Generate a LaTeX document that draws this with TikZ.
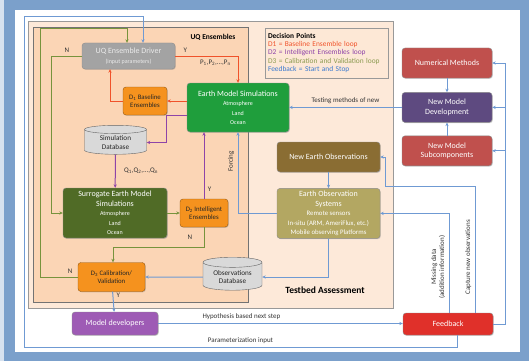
\documentclass[tikz,border=0pt]{standalone}
\usepackage{fontspec}
\setmainfont{Carlito}
\usetikzlibrary{positioning,arrows.meta,shapes.geometric,shadows}
\definecolor{frameblue}{HTML}{7BA0CB}
\definecolor{testbedfill}{HTML}{FDE9D9}
\definecolor{uqfill}{HTML}{FBD5B5}
\definecolor{lineblue}{HTML}{6F9AD3}
\definecolor{lineolive}{HTML}{77933C}
\definecolor{linered}{HTML}{F0522A}
\definecolor{linepurple}{HTML}{8E44A8}
\definecolor{drivergrey}{HTML}{A3A3A3}
\definecolor{earthgreen}{HTML}{1F9E3C}
\definecolor{dorange}{HTML}{F5921E}
\definecolor{surrolive}{HTML}{506B26}
\definecolor{obsbrown}{HTML}{8A6D33}
\definecolor{obskhaki}{HTML}{B3A762}
\definecolor{devpurple}{HTML}{9E5BB5}
\definecolor{feedred}{HTML}{E0302A}
\definecolor{methred}{HTML}{C0504D}
\definecolor{methpurple}{HTML}{5E4A80}
\definecolor{legendolive}{HTML}{8A9A50}
\definecolor{legendblue}{HTML}{3A7AD0}
\newcommand{\smalltxt}{\fontsize{6}{7.5}\selectfont}
\newcommand{\midtxt}{\fontsize{6.8}{8}\selectfont}
\tikzset{
  blk/.style={rounded corners=3pt,draw=black!45,align=center,text=white,inner sep=1pt,
            font=\fontsize{8}{9.5}\selectfont,
            drop shadow={shadow xshift=0.8pt,shadow yshift=-0.8pt,opacity=0.35}},
  dbox/.style={blk,fill=dorange,draw=dorange!60!black,text=black!85,font=\fontsize{6.8}{7.8}\selectfont},
  dbase/.style={cylinder,shape border rotate=90,aspect=0.25,draw=black!60,fill=black!15,
            align=center,text=black!85,inner sep=1pt,font=\fontsize{7.2}{8.2}\selectfont},
  legendbox/.style={draw=black!40,fill=uqfill!55,align=left,inner sep=3pt,
            text width=117pt,minimum height=50pt,font=\fontsize{7.4}{8.4}\selectfont,
            drop shadow={shadow xshift=0.8pt,shadow yshift=-0.8pt,opacity=0.3}},
  gloop/.style={->,line width=1pt,lineolive},
  rloop/.style={->,line width=1pt,linered},
  ploop/.style={->,line width=1pt,linepurple},
  bloop/.style={->,line width=1pt,lineblue},
  lbl/.style={font=\fontsize{7}{8}\selectfont,text=black!80},
}
\begin{document}
\begin{tikzpicture}[x=1pt,y=-1pt,>={Stealth[length=3.5pt,width=3.2pt]},
    every node/.style={font=\fontsize{7.5}{9}\selectfont}]
  \useasboundingbox (0,0) rectangle (529,361);
  \fill[frameblue!30] (0,0) rectangle (529,361);
  \fill[frameblue] (4,0) rectangle (529,361);
  \fill[white] (15,10) rectangle (520,352);
  \draw[black!40,fill=testbedfill] (28,21) rectangle (393,308);
  \draw[black!55,fill=uqfill] (33,27) rectangle (248,302);

  \node[font=\bfseries\fontsize{7.5}{9}\selectfont] (uqlbl) at (213,37) {UQ Ensembles};
  \node[font=\bfseries\fontsize{9.5}{11}\selectfont] (tblbl) at (325,290) {Testbed Assessment};
  \node[legendbox] (legend) at (326.5,53) {\textbf{Decision Points}\\
    \textcolor{linered}{D1 = Baseline Ensemble loop}\\
    \textcolor{linepurple}{D2 = Intelligent Ensembles loop}\\
    \textcolor{legendolive}{D3 = Calibration and Validation loop}\\
    \textcolor{legendblue}{Feedback = Start and Stop}};

  \node[blk,fill=drivergrey,text=white!92!black,minimum width=93pt,minimum height=26pt]
        (driver) at (128.5,56) {UQ Ensemble Driver\\\smalltxt(input parameters)};
  \node[blk,fill=earthgreen,minimum width=102pt,minimum height=49pt]
        (earth) at (238,107.5) {Earth Model Simulations\\\smalltxt Atmosphere\\\smalltxt Land\\\smalltxt Ocean};
  \node[dbox,minimum width=44pt,minimum height=28pt]
        (baseline) at (145,101) {D\textsubscript{1} Baseline\\Ensembles};
  \node[dbase,minimum width=62pt,minimum height=29pt]
        (simdb) at (115.5,142.5) {Simulation\\Database};
  \node[blk,fill=surrolive,minimum width=104pt,minimum height=50pt]
        (surrogate) at (115,213) {Surrogate Earth Model\\Simulations\\\smalltxt Atmosphere\\\smalltxt Land\\\smalltxt Ocean};
  \node[dbox,minimum width=48pt,minimum height=28pt]
        (intel) at (204,213) {D\textsubscript{2} Intelligent\\Ensembles};
  \node[dbox,minimum width=67pt,minimum height=29pt]
        (calib) at (111.5,277) {D\textsubscript{3} Calibration/\\Validation};
  \node[dbase,minimum width=59pt,minimum height=33pt]
        (obsdb) at (232.5,277) {Observations\\Database};
  \node[blk,fill=obsbrown,minimum width=103pt,minimum height=30pt]
        (neweo) at (328.5,157) {New Earth Observations};
  \node[blk,fill=obskhaki,minimum width=103pt,minimum height=50pt,below=16pt of neweo]
        (eos) {Earth Observation\\Systems\\\midtxt Remote sensors\\\midtxt In-situ (ARM, AmeriFlux, etc.)\\\midtxt Mobile observing Platforms};
  \node[blk,fill=devpurple,minimum width=86pt,minimum height=23pt]
        (moddev) at (115,323.5) {Model developers};
  \node[blk,fill=feedred,minimum width=90pt,minimum height=22pt]
        (feedback) at (448,324) {Feedback};
  \node[blk,fill=methred,minimum width=90pt,minimum height=30pt]
        (nummeth) at (447,63) {Numerical Methods};
  \node[blk,fill=methpurple,minimum width=90pt,minimum height=30pt,below=14pt of nummeth]
        (newdev) {New Model\\Development};
  \node[blk,fill=methred,minimum width=90pt,minimum height=30pt,below=13pt of newdev]
        (newsub) {New Model\\Subcomponents};

  \coordinate (greentop) at (40,29);
  \coordinate (bluetop) at (24,17);

  \draw[rloop] (driver.east) -| node[lbl,above,pos=0.08]{Y}
        node[lbl,below,pos=0.32]{P\textsubscript{1},P\textsubscript{2},...,P\textsubscript{n}} (earth.north);
  \draw[rloop] (earth.west |- baseline.east) -- (baseline.east);
  \draw[rloop] (baseline.west) -| ([xshift=-18.5pt]driver.south);
  \draw[gloop] (driver.west) -- node[lbl,above]{N} ++(-30,0) |- (surrogate.west);
  \draw[ploop] ([yshift=-7.5pt]earth.west) -| ([xshift=19.5pt]simdb.east) -- (simdb.east);
  \draw[ploop] (simdb) -- node[lbl,right=5pt]{Q\textsubscript{1},Q\textsubscript{2},...,Q\textsubscript{n}} (surrogate);
  \draw[gloop] (surrogate.east) -- (surrogate.east -| intel.west);
  \draw[ploop] (intel.north) -- node[lbl,right,pos=0.15]{Y} (intel.north |- earth.south);
  \draw[gloop] (intel.south) -- node[lbl,left=8pt]{N} ++(0,20) -| ([xshift=1.5pt]calib.north);
  \draw[gloop] (calib.west) -| node[lbl,above,pos=0.1]{N} (greentop) -| ([xshift=-1.5pt]driver.north);
  \draw[bloop] (eos.west) -| node[lbl,sloped,above,pos=0.82]{Forcing} (earth.south);
  \draw[bloop] (neweo) -- (eos);
  \draw[bloop] (eos.south) |- (obsdb);
  \draw[bloop] (obsdb) -- (calib);
  \draw[bloop] (calib) -- node[lbl,right,pos=0.2]{Y} (moddev);
  \draw[bloop] (moddev.east) -- node[lbl,above,pos=0.34]{Hypothesis based next step} (moddev.east -| feedback.west);
  \draw[bloop] ([xshift=9pt]feedback.south) -- ++(0,12)
        -| node[lbl,above,pos=0.25]{Parameterization input} (bluetop) -| ([xshift=14.5pt]driver.north);
  \draw[bloop] ([xshift=1pt]feedback.north) |- node[lbl,sloped,above,pos=0.23,align=center]
        {Missing data\\(addition information)} (eos.east);
  \draw[bloop] ([xshift=27pt]feedback.north) -- node[lbl,sloped,above,pos=0.44]{Capture new observations}
        ++(0,-126) -| ([xshift=5pt]neweo.east) -- (neweo.east);
  \draw[bloop] (feedback.east) -| ([xshift=13pt]nummeth.east) -- (nummeth.east);
  \draw[bloop] ([xshift=13pt]newdev.east) -- (newdev.east);
  \draw[bloop] ([xshift=13pt]newsub.east) -- (newsub.east);
  \draw[bloop] (nummeth) -- (newdev);
  \draw[bloop] (newsub) -- (newdev);
  \draw[bloop] (newdev.west) -- node[lbl,above]{Testing methods of new} (newdev.west -| earth.east);
\end{tikzpicture}
\end{document}
